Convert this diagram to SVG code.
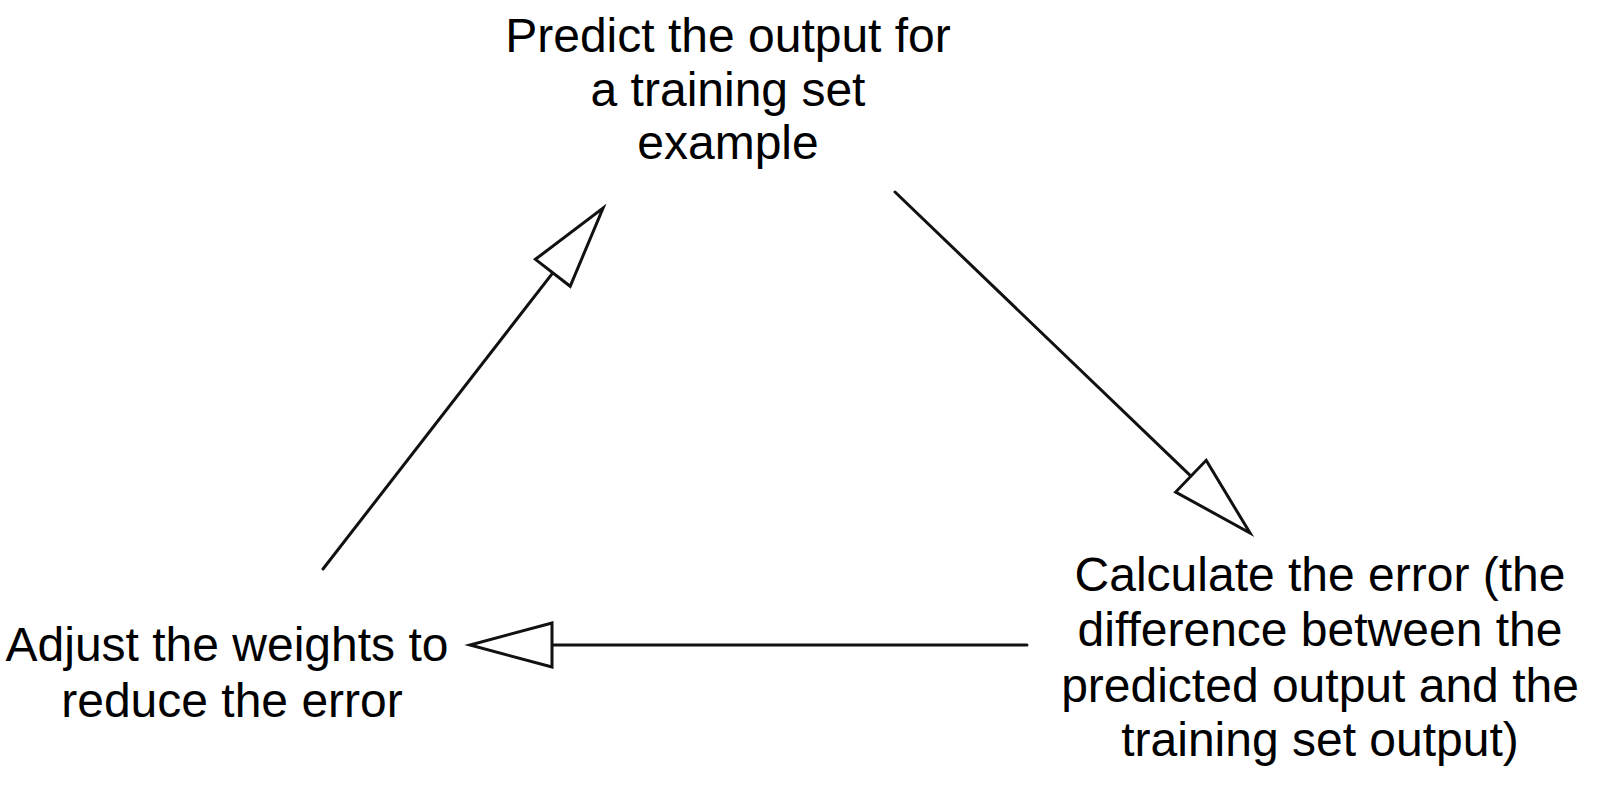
<svg xmlns="http://www.w3.org/2000/svg" width="1604" height="788" viewBox="0 0 1604 788">
<defs>
<style>
.lbl{font-family:"Liberation Sans",Arial,Helvetica,sans-serif;font-size:48px;fill:#000;text-anchor:middle}
.edge{stroke:#111;stroke-width:3;fill:none;stroke-linecap:round}
</style>
<marker id="tri" markerUnits="userSpaceOnUse" markerWidth="90" markerHeight="52" viewBox="-3 -26 90 52" refX="0" refY="0" orient="auto" overflow="visible">
<path d="M0,-22 L82,0 L0,22 Z" fill="#fff" stroke="#111" stroke-width="3" stroke-linejoin="miter"/>
</marker>
</defs>
<rect width="1604" height="788" fill="#fff"/>
<g id="connectors">
<line class="edge" x1="323" y1="569" x2="552.8" y2="272.8" marker-end="url(#tri)"/>
<line class="edge" x1="895" y1="192" x2="1190.9" y2="476.2" marker-end="url(#tri)"/>
<line class="edge" x1="1027" y1="645" x2="552" y2="645" marker-end="url(#tri)"/>
</g>
<g id="node-predict">
<text class="lbl" x="728" y="52">Predict the output for</text>
<text class="lbl" x="728" y="106">a training set</text>
<text class="lbl" x="728" y="159">example</text>
</g>
<g id="node-calculate">
<text class="lbl" x="1320" y="591">Calculate the error (the</text>
<text class="lbl" x="1320" y="646">difference between the</text>
<text class="lbl" x="1320" y="702">predicted output and the</text>
<text class="lbl" x="1320" y="756">training set output)</text>
</g>
<g id="node-adjust">
<text class="lbl" x="227" y="661">Adjust the weights to</text>
<text class="lbl" x="232" y="717">reduce the error</text>
</g>
</svg>
